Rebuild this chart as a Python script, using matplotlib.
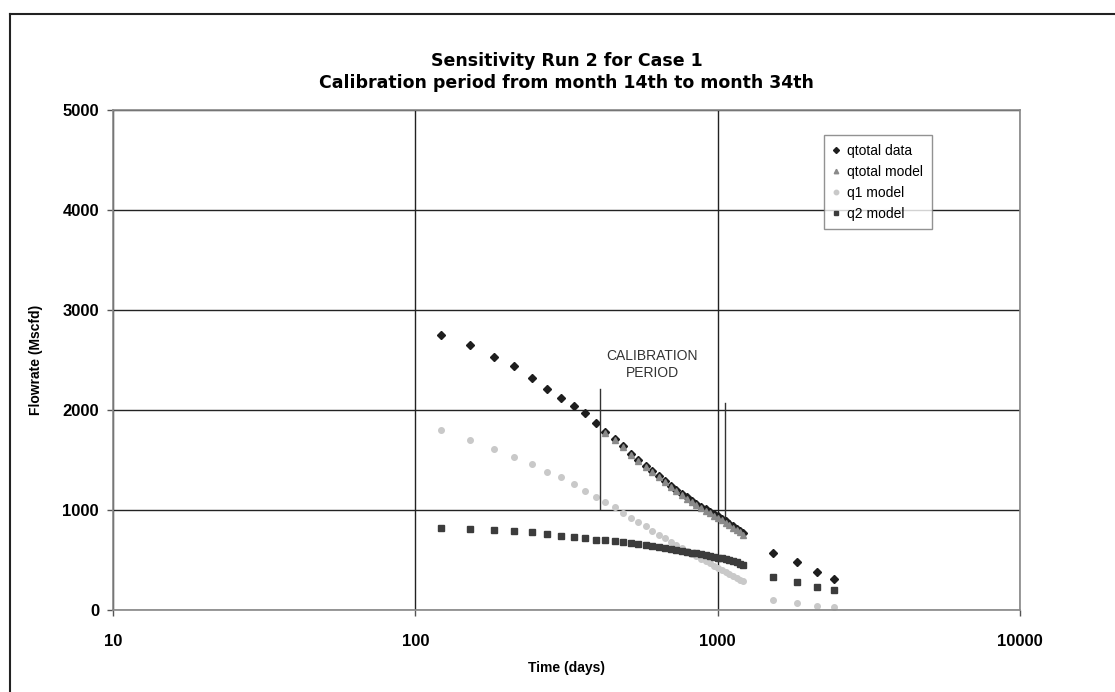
import matplotlib
matplotlib.use("Agg")
import matplotlib.pyplot as plt
from matplotlib.lines import Line2D
import numpy as np

plt.rcParams['font.family'] = ['Liberation Sans', 'DejaVu Sans']

# months of production (monthly points to month 40, then every 10 months)
months = list(range(4, 41)) + [50, 60, 70, 80]
days_per_month = 30.4

qtotal_data = [2750, 2650, 2535, 2440, 2325, 2215, 2125, 2045, 1975, 1875,
               1780, 1710, 1640, 1560, 1500, 1445, 1390, 1340, 1290, 1245,
               1205, 1165, 1130, 1095, 1065, 1035, 1010, 985, 960, 940,
               915, 890, 865, 840, 815, 795, 775,
               567, 477, 377, 307]

# model total only over months 14..40
model_months = list(range(14, 41))
qtotal_model = [1775, 1700, 1628, 1550, 1488, 1432, 1378, 1326, 1278, 1232,
                1190, 1150, 1114, 1080, 1050, 1020, 994, 968, 944, 922,
                898, 873, 848, 823, 798, 776, 755]

q1_model = [1800, 1705, 1615, 1535, 1465, 1385, 1330, 1260, 1190, 1135,
            1083, 1027, 973, 923, 883, 840, 795, 755, 718, 683,
            650, 620, 592, 565, 540, 515, 490, 467, 445, 423,
            402, 382, 362, 342, 322, 303, 285,
            100, 67, 43, 27]

q2_model = [823, 813, 803, 793, 777, 757, 740, 728, 717, 705,
            700, 690, 680, 668, 657, 647, 637, 628, 619, 610,
            601, 592, 583, 575, 566, 557, 549, 541, 533, 525,
            517, 508, 498, 488, 477, 465, 455,
            327, 280, 233, 200]

# calibration period markers (days, low, high)
calib_lines = [(407, 1010, 2210), (1055, 930, 2070)]

days = np.array(months) * days_per_month
model_days = np.array(model_months) * days_per_month

fig = plt.figure(figsize=(11.15, 6.92), dpi=100)
ax = fig.add_axes([0.1013, 0.1185, 0.8135, 0.7225])

ax.plot(days, qtotal_data, linestyle='none', marker='D', ms=3.8,
        color='#1e1e1e', label='qtotal data')
ax.plot(model_days, qtotal_model, linestyle='none', marker='^', ms=4.0,
        color='#8a8a8a', label='qtotal model')
ax.plot(days, q1_model, linestyle='none', marker='o', ms=4.0,
        color='#c9c9c9', label='q1 model')
ax.plot(days, q2_model, linestyle='none', marker='s', ms=4.2,
        color='#3c3c3c', label='q2 model')

for x, lo, hi in calib_lines:
    ax.plot([x, x], [lo, hi], color='#333333', lw=1.0)
ax.text(608, 2455, 'CALIBRATION\nPERIOD', ha='center', va='center',
        fontsize=10, color='#333333', linespacing=1.25)

ax.set_xscale('log')
ax.set_xlim(10, 10000)
ax.set_ylim(0, 5000)
ax.set_xticks([10, 100, 1000, 10000])
ax.set_xticklabels(['10', '100', '1000', '10000'])
ax.xaxis.set_minor_locator(matplotlib.ticker.NullLocator())
ax.set_yticks(range(0, 5001, 1000))
ax.grid(True, which='major', color='#222222', lw=1.0)
ax.set_axisbelow(True)
for sp in ax.spines.values():
    sp.set_color('#888888')
    sp.set_linewidth(1.2)
ax.tick_params(direction='out', length=4, width=1, color='#555555',
               labelsize=12, pad=6)
ax.tick_params(axis='x', pad=13)
for lab in ax.get_xticklabels() + ax.get_yticklabels():
    lab.set_fontweight('bold')

ax.set_xlabel('Time (days)', fontsize=10, fontweight='bold', labelpad=9)
ax.set_ylabel('Flowrate (Mscfd)', fontsize=10, fontweight='bold', labelpad=14)
ax.set_title('Sensitivity Run 2 for Case 1\nCalibration period from month 14th to month 34th',
             fontsize=12.5, fontweight='bold', pad=16, linespacing=1.3,
             family=['DejaVu Sans'])

leg = ax.legend(loc='upper left', bbox_to_anchor=(0.776, 0.963), fontsize=10,
                frameon=True, fancybox=False, edgecolor='#777777',
                handlelength=0.6, handletextpad=0.5, borderpad=0.6,
                labelspacing=0.5, markerscale=0.8)
leg.get_frame().set_linewidth(1.0)

# outer chart frame (top and left edges)
fig.add_artist(Line2D([0.009, 1.0], [0.98, 0.98], color='#222222', lw=1.5,
                      transform=fig.transFigure))
fig.add_artist(Line2D([0.009, 0.009], [0.0, 0.98], color='#222222', lw=1.5,
                      transform=fig.transFigure))

fig.savefig('out.png', dpi=100)
plt.close(fig)
